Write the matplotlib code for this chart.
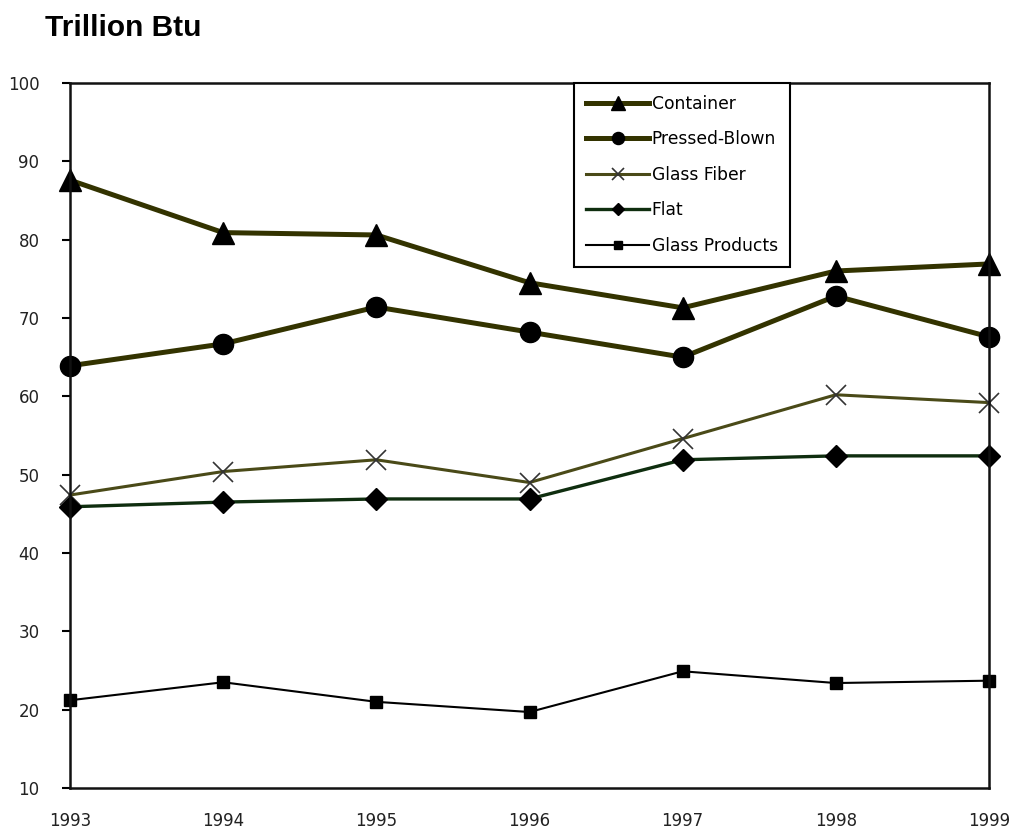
import matplotlib
matplotlib.use("Agg")
import matplotlib.pyplot as plt

years = [1993, 1994, 1995, 1996, 1997, 1998, 1999]
container = [87.6, 80.9, 80.6, 74.5, 71.3, 76.0, 76.9]
pressed_blown = [63.9, 66.7, 71.4, 68.2, 65.0, 72.8, 67.6]
glass_fiber = [47.4, 50.4, 51.9, 49.0, 54.6, 60.2, 59.2]
flat = [45.9, 46.5, 46.9, 46.9, 51.9, 52.4, 52.4]
glass_products = [21.2, 23.5, 21.0, 19.7, 24.9, 23.4, 23.7]
y_ticks = [10, 20, 30, 40, 50, 60, 70, 80, 90, 100]

plt.rcParams['font.family'] = ['Liberation Sans', 'DejaVu Sans']

fig = plt.figure(figsize=(10.2, 8.36), dpi=100)
ax = fig.add_axes([70 / 1020, 1 - 788 / 836, 919 / 1020, 705 / 836])

olive = '#333300'
ax.plot(years, container, color=olive, lw=3.6, marker='^', ms=16,
        mfc='black', mec='black', label='Container', zorder=5, clip_on=False)
ax.plot(years, pressed_blown, color=olive, lw=3.6, marker='o', ms=14.5,
        mfc='black', mec='black', label='Pressed-Blown', zorder=5, clip_on=False)
ax.plot(years, glass_fiber, color='#4a4a18', lw=2.2, marker='x', ms=14,
        mew=1.2, mec='#333333', label='Glass Fiber', zorder=4, clip_on=False)
ax.plot(years, flat, color='#0f2e0f', lw=2.4, marker='D', ms=11,
        mfc='black', mec='black', label='Flat', zorder=4, clip_on=False)
ax.plot(years, glass_products, color='black', lw=1.5, marker='s', ms=9,
        mfc='black', mec='black', label='Glass Products', zorder=4, clip_on=False)

tick_font = dict(family='DejaVu Sans', size=12, color='#222222')
ax.set_xlim(1993, 1999)
ax.set_ylim(10, 100)
ax.set_xticks(years)
ax.set_xticklabels([str(y) for y in years], **tick_font)
ax.set_yticks(y_ticks)
ax.set_yticklabels([str(v) for v in y_ticks], **tick_font)
ax.tick_params(axis='x', length=0, pad=17)
ax.tick_params(axis='y', length=6, width=1.5, direction='out', pad=16)
for s in ax.spines.values():
    s.set_linewidth(1.8)
    s.set_color('#111111')
    s.set_zorder(6)

leg = ax.legend(loc='upper left', bbox_to_anchor=(574 / 1020, 1 - 83 / 836),
                bbox_transform=fig.transFigure,
                prop=dict(family='DejaVu Sans', size=12.3), frameon=True,
                fancybox=False, edgecolor='black', borderaxespad=0,
                handlelength=3.7, handletextpad=0.15, labelspacing=1.02,
                borderpad=0.7, markerscale=0.6, framealpha=1)
leg.get_frame().set_linewidth(1.5)
leg.set_zorder(10)

fig.text(45 / 1020, 1 - 36 / 836, 'Trillion Btu', fontsize=21.5,
         fontweight='bold', ha='left', va='baseline')

fig.savefig('out.png', dpi=100)
